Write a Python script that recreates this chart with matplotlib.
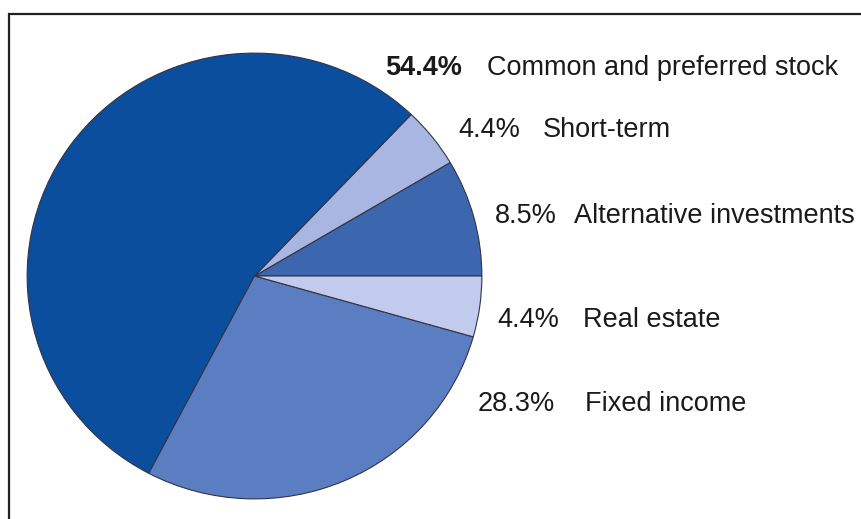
import matplotlib
matplotlib.use("Agg")
import matplotlib.pyplot as plt
from matplotlib.patches import Rectangle

# Data (counter-clockwise from 3 o'clock)
categories = ["Alternative investments", "Short-term", "Common and preferred stock",
              "Fixed income", "Real estate"]
values = [8.5, 4.4, 54.4, 28.3, 4.4]
pct_labels = ["8.5%", "4.4%", "54.4%", "28.3%", "4.4%"]
colors = ["#3c66ae", "#a9b6e2", "#0b4e9d", "#5b7ec2", "#c2cbee"]

W, H = 861, 519
fig = plt.figure(figsize=(W / 100, H / 100), dpi=100)

# pie bounding box in pixels (left, top, right, bottom)
L, T, R, B = 26, 52, 483, 500
ax = fig.add_axes([L / W, (H - B) / H, (R - L) / W, (B - T) / H])
ax.pie(values, colors=colors, startangle=0, counterclock=True,
       radius=1, wedgeprops=dict(edgecolor="#333344", linewidth=0.8))
ax.set_xlim(-1.005, 1.005)
ax.set_ylim(-1.005, 1.005)
ax.set_aspect("auto")
ax.axis("off")

# label layout (pixel positions from top-left)
pct_x = [495, 458, 385, 478, 497]
name_x = [574, 543, 487, 585, 583]
text_y = [216, 130, 68, 404, 320]
fs = 19.5
for i in range(len(values)):
    fig.text(pct_x[i] / W, 1 - text_y[i] / H, pct_labels[i], fontsize=fs,
             family="Liberation Sans", color="#1a1a1a", va="center", ha="left",
             fontweight="bold" if i == 2 else "normal")
    fig.text(name_x[i] / W, 1 - text_y[i] / H, categories[i], fontsize=fs,
             family="Liberation Sans", color="#1a1a1a", va="center", ha="left")

# frame (top and left edges visible)
fig.add_artist(Rectangle((9 / W, -0.1), 1.2, (H - 14) / H + 0.1,
                         transform=fig.transFigure, fill=False,
                         edgecolor="#222222", linewidth=1.6))

fig.savefig("out.png", dpi=100, facecolor="white")
